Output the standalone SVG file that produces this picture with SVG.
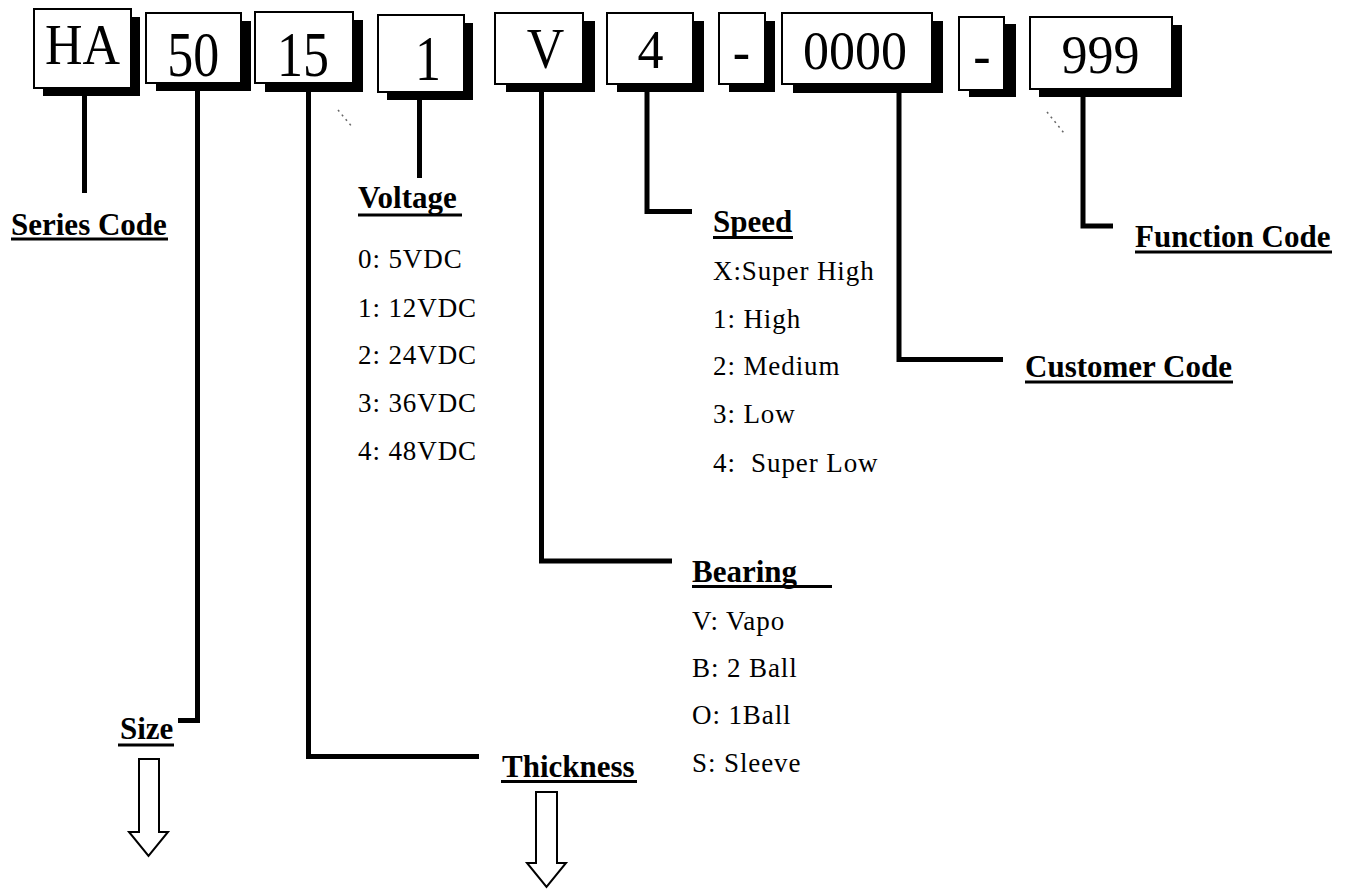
<svg xmlns="http://www.w3.org/2000/svg" width="1350" height="889" viewBox="0 0 1350 889">
<style>
.box{fill:#fff;stroke:#000;stroke-width:2}
.shadow{fill:#000}
.code{font-family:"Liberation Serif","Times New Roman",serif;font-size:52px;fill:#000;text-anchor:middle}
.lbl{font-family:"Liberation Serif","Times New Roman",serif;font-size:31px;font-weight:bold;fill:#000}
.item{font-family:"Liberation Serif","Times New Roman",serif;font-size:27px;letter-spacing:0.9px;fill:#000}
.ul{fill:#000}
.conn{fill:none;stroke:#000;stroke-width:5;stroke-linejoin:miter;stroke-linecap:butt}
.arrow{fill:#fff;stroke:#000;stroke-width:2;stroke-linejoin:miter}
.dots{stroke:#666;stroke-width:1.5;stroke-dasharray:2 4;fill:none}
</style>
<rect width="1350" height="889" fill="#fff"/>

<g id="connectors">
<path class="conn" d="M84.5 88 V193"/>
<path class="conn" d="M197.5 83 V720.5 H178"/>
<path class="conn" d="M308.5 83 V756.5 H479"/>
<path class="conn" d="M419.5 92 V178"/>
<path class="conn" d="M541.5 84 V561 H672"/>
<path class="conn" d="M647 84 V211.5 H692"/>
<path class="conn" d="M899 84 V359.5 H1003"/>
<path class="conn" d="M1083 89 V226 H1113"/>
<path class="arrow" d="M139 759 H159 V832 H168 L148.5 856 L129 832 H139 Z"/>
<path class="arrow" d="M536 792 H557 V863 H566 L546.5 887 L527 863 H536 Z"/>
<path class="dots" d="M338 110 L353 128"/>
<path class="dots" d="M1047 112 L1064 133"/>
</g>

<g id="box-HA">
<rect class="shadow" x="43" y="17" width="97" height="79"/>
<rect class="box" x="34" y="9" width="97" height="79"/>
<text class="code" transform="translate(82.5,64) scale(1,1.11)">HA</text>
</g>
<g id="box-50">
<rect class="shadow" x="156" y="21" width="95" height="70"/>
<rect class="box" x="146" y="13" width="95" height="70"/>
<text class="code" transform="translate(193.3,75.5) scale(1,1.2)">50</text>
</g>
<g id="box-15">
<rect class="shadow" x="265" y="20" width="98" height="72"/>
<rect class="box" x="255" y="12" width="98" height="71"/>
<text class="code" transform="translate(303,75.5) scale(1,1.22)">15</text>
</g>
<g id="box-1">
<rect class="shadow" x="387" y="23" width="86" height="77"/>
<rect class="box" x="378" y="15" width="86" height="77"/>
<text class="code" transform="translate(428,80) scale(1,1.2)">1</text>
</g>
<g id="box-V">
<rect class="shadow" x="506" y="21" width="89" height="71"/>
<rect class="box" x="495" y="13" width="88" height="71"/>
<text class="code" transform="translate(545.5,68.3) scale(1,1.1)">V</text>
</g>
<g id="box-4">
<rect class="shadow" x="617" y="21" width="87" height="71"/>
<rect class="box" x="607" y="13" width="86" height="71"/>
<text class="code" transform="translate(650.5,68.3) scale(1,1.05)">4</text>
</g>
<g id="box-dash1">
<rect class="shadow" x="729" y="21" width="46" height="71"/>
<rect class="box" x="719" y="13" width="46" height="71"/>
<text class="code" transform="translate(741.5,69.5) scale(1,1.1)">-</text>
</g>
<g id="box-0000">
<rect class="shadow" x="793" y="21" width="150" height="72"/>
<rect class="box" x="782" y="13" width="150" height="71"/>
<text class="code" transform="translate(855,68.5) scale(1,1.06)">0000</text>
</g>
<g id="box-dash2">
<rect class="shadow" x="969" y="24" width="47" height="73"/>
<rect class="box" x="959" y="17" width="45" height="73"/>
<text class="code" transform="translate(982,74) scale(1,1.1)">-</text>
</g>
<g id="box-999">
<rect class="shadow" x="1039" y="25" width="143" height="72"/>
<rect class="box" x="1030" y="17" width="142" height="72"/>
<text class="code" transform="translate(1100.5,72.5) scale(1,1.05)">999</text>
</g>

<g id="label-series">
<text class="lbl" x="11" y="235">Series Code</text>
<rect class="ul" x="11" y="237.5" width="157" height="3"/>
</g>
<g id="label-size">
<text class="lbl" x="120" y="739">Size</text>
<rect class="ul" x="118" y="743.5" width="56" height="3"/>
</g>
<g id="label-thickness">
<text class="lbl" x="502" y="777">Thickness</text>
<rect class="ul" x="501" y="780" width="136" height="3"/>
</g>
<g id="label-voltage">
<text class="lbl" x="358" y="208">Voltage</text>
<rect class="ul" x="358" y="213.5" width="104" height="3"/>
<text class="item" x="358" y="268">0: 5VDC</text>
<text class="item" x="358" y="317">1: 12VDC</text>
<text class="item" x="358" y="364">2: 24VDC</text>
<text class="item" x="358" y="412">3: 36VDC</text>
<text class="item" x="358" y="460">4: 48VDC</text>
</g>
<g id="label-speed">
<text class="lbl" x="713" y="232">Speed</text>
<rect class="ul" x="713" y="236" width="80" height="3"/>
<text class="item" x="713" y="280">X:Super High</text>
<text class="item" x="713" y="328">1: High</text>
<text class="item" x="713" y="375">2: Medium</text>
<text class="item" x="713" y="423">3: Low</text>
<text class="item" x="713" y="472" xml:space="preserve">4:  Super Low</text>
</g>
<g id="label-bearing">
<text class="lbl" x="692" y="582">Bearing</text>
<rect class="ul" x="692" y="585" width="140" height="3"/>
<text class="item" x="692" y="630">V: Vapo</text>
<text class="item" x="692" y="677">B: 2 Ball</text>
<text class="item" x="692" y="724">O: 1Ball</text>
<text class="item" x="692" y="772">S: Sleeve</text>
</g>
<g id="label-customer">
<text class="lbl" x="1025" y="377">Customer Code</text>
<rect class="ul" x="1025" y="380.5" width="208" height="3"/>
</g>
<g id="label-function">
<text class="lbl" x="1135" y="247">Function Code</text>
<rect class="ul" x="1135" y="250.5" width="197" height="3"/>
</g>
</svg>
